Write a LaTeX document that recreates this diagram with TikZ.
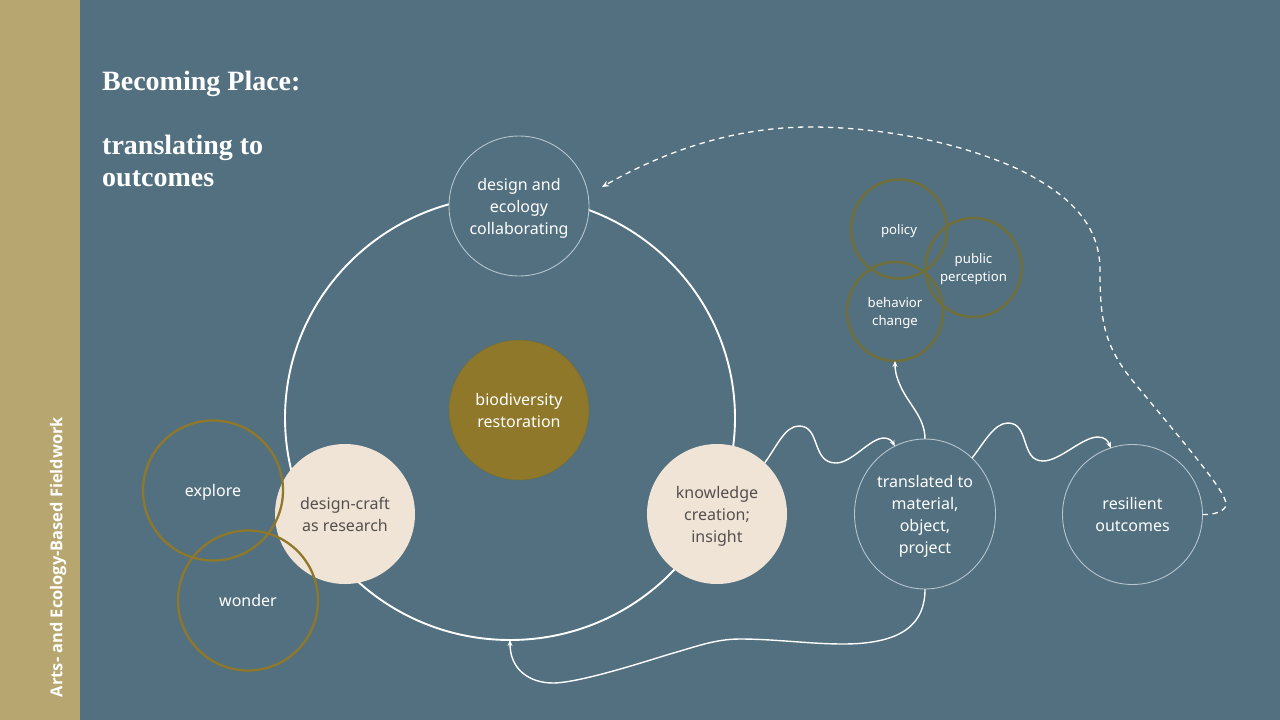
\documentclass[tikz,border=0pt]{standalone}
\usepackage{fontspec}
\setmainfont{Noto Sans}
\newfontfamily\titlefont{Liberation Serif}
\newfontfamily\stripfont{Open Sans}
\usetikzlibrary{arrows.meta,shapes.geometric}
\definecolor{slate}{HTML}{527080}
\definecolor{sand}{HTML}{B7A66F}
\definecolor{cream}{HTML}{F0E4D6}
\definecolor{ochre}{HTML}{8F7829}
\definecolor{olive}{HTML}{6F6F3C}
\definecolor{darktext}{HTML}{55504E}
\definecolor{thinline}{HTML}{B5C4CD}

\begin{document}
\begin{tikzpicture}[x=1pt,y=-1pt]
        \tikzstyle{blob}=[circle,inner sep=0pt,outer sep=0pt,align=center,text=white,text depth=-4pt,font=\fontsize{16}{22}\selectfont]
        \tikzstyle{bigblob}=[blob,minimum size=140pt]
        \tikzstyle{plain}=[bigblob,draw=thinline,line width=0.9pt,fill=slate]
        \tikzstyle{pale}=[bigblob,fill=cream,text=darktext]
        \tikzstyle{halo}=[bigblob,draw=ochre,line width=2.3pt]
        \tikzstyle{small}=[blob,ellipse,text depth=-2pt,minimum width=96pt,minimum height=99pt,draw=olive,line width=2.6pt,font=\fontsize{13.2}{18}\selectfont]
        \tikzstyle{flow}=[white,line width=1.4pt,-{Stealth[length=6pt,width=5pt]}]
        \useasboundingbox (0,0) rectangle (1280,720);
        \fill[slate] (0,0) rectangle (1280,720);
        \fill[sand] (0,0) rectangle (80,720);
        \node[rotate=90,text=white,font=\stripfont\fontsize{16.4}{20}\selectfont\bfseries] (strip) at (58,557) {Arts- and Ecology-Based Fieldwork};
        \node[anchor=north west,inner sep=0pt,align=left,text=white,font=\titlefont\fontsize{28}{32}\selectfont\bfseries] (title) at (102,71) {Becoming Place:\\[32pt]translating to\\outcomes};

        \node[ellipse,draw=white,line width=1.9pt,minimum width=450pt,minimum height=444pt,inner sep=0pt,outer sep=0pt] (ring) at (510,418) {};
        \node[plain] (design) at (519,206) {design and\\ecology\\collaborating};
        \node[bigblob,fill=ochre,draw=olive,line width=0.5pt,text=white] (biodiversity) at (519,410) {biodiversity\\restoration};
        \node[pale] (craft) at (345,514) {design-craft\\as research};
        \node[pale] (knowledge) at (717,514) {knowledge\\creation;\\insight};
        \node[halo] (explore) at (213,490.5) {explore};
        \node[halo] (wonder) at (248,600.5) {wonder};
        \node[plain,ellipse,minimum width=141pt,minimum height=150pt] (translated) at (925,514) {translated to\\material,\\object,\\project};
        \node[plain] (resilient) at (1132.5,514.5) {resilient\\outcomes};
        \node[small] (policy) at (899,229) {policy};
        \node[small] (public) at (973.5,267.5) {public\\perception};
        \node[small] (behavior) at (895,311.5) {behavior\\change};
        \coordinate (dashend) at (602,187);

        \draw[flow] (knowledge.47) .. controls (777,446) and (785,426) .. (799,426) .. controls (821,426) and (811,463) .. (836,463) .. controls (852,463) and (870,438) .. (884,438) .. controls (889,438) and (892,441) .. (translated.114);
        \draw[flow] (translated.50) .. controls (984,443) and (994,423) .. (1008,423) .. controls (1030,423) and (1020,461) .. (1043,461) .. controls (1060,461) and (1082,437) .. (1098,437) .. controls (1105,437) and (1108,441) .. (resilient.108);
        \draw[flow] (translated.north) .. controls (925,417) and (908,404) .. (900,385) .. controls (896,376) and (895,370) .. (behavior.south);
        \draw[flow] (translated.south) .. controls (925,622) and (905,644) .. (843,644) .. controls (810,644) and (775,639) .. (740,639) .. controls (715,639) and (695,647) .. (670,654) .. controls (650,660) and (580,683) .. (553,683) .. controls (530,683) and (510,670) .. (ring.south);
        \draw[white,line width=1.3pt,dash pattern=on 5.5pt off 4.5pt,-{Stealth[length=7pt,width=6pt,open]}] (resilient.east) .. controls (1212,515) and (1226,512) .. (1226,504) .. controls (1226,492) and (1190,450) .. (1132,380) .. controls (1104,345) and (1100,320) .. (1100,270) .. controls (1100,225) and (1070,195) .. (1020,170) .. controls (960,142) and (880,127) .. (810,127) .. controls (740,127) and (670,148) .. (dashend);
\end{tikzpicture}
\end{document}
